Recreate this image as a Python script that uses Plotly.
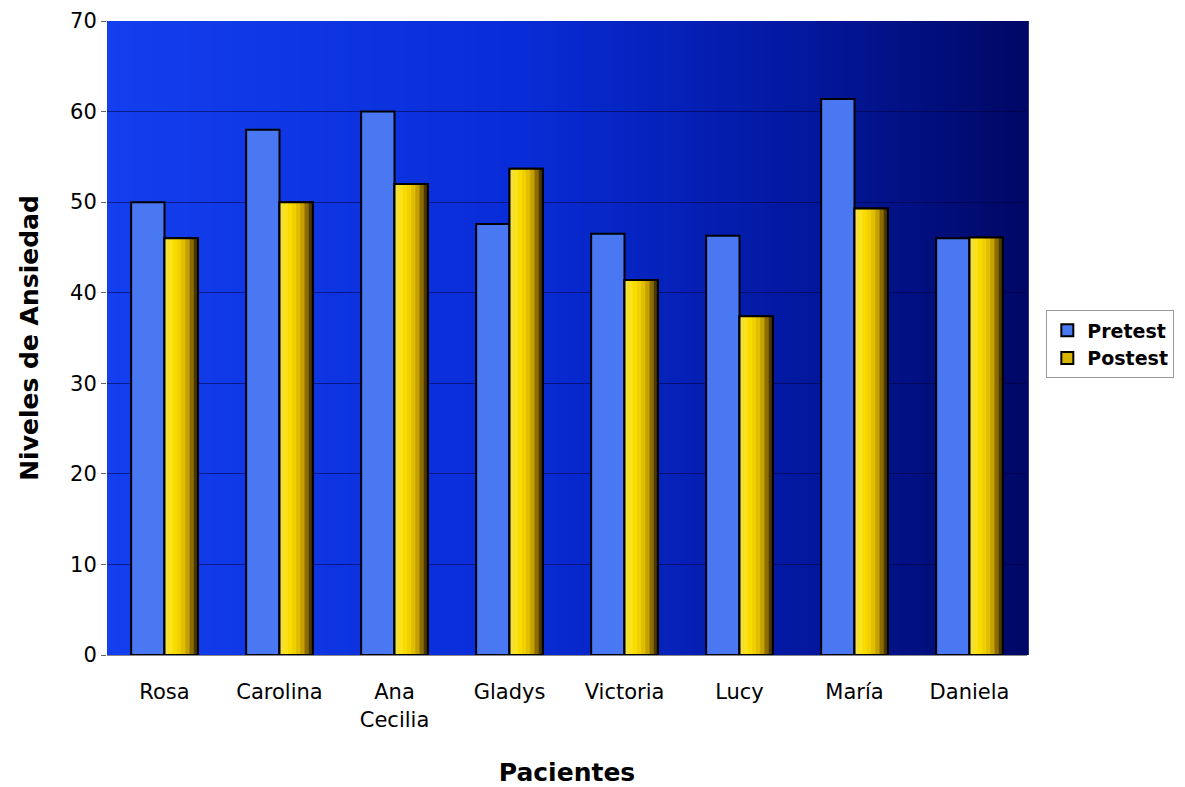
import plotly.graph_objects as go

categorias = ["Rosa", "Carolina", "Ana<br>Cecilia", "Gladys", "Victoria", "Lucy", "María", "Daniela"]
pretest = [50, 58, 60, 47.6, 46.5, 46.3, 61.4, 46]
postest = [46, 50, 52, 53.7, 41.4, 37.4, 49.3, 46.1]

FONT = "DejaVu Sans, Liberation Sans, Arial, sans-serif"
w = 0.29  # bar width in category units

fig = go.Figure()
# Pretest bars
fig.add_trace(go.Bar(name="Pretest", x=categorias, y=pretest, offset=-w, width=w,
                     marker=dict(color="#4a78f2", line=dict(color="#000000", width=2))))
# Postest bars (base colour, legend entry)
fig.add_trace(go.Bar(name="Postest", x=categorias, y=postest, offset=0, width=w,
                     marker=dict(color="#d8b400", line=dict(color="#000000", width=2))))
# cylinder shading strips on the Postest bars
shade = ["#f2e040", "#fbe21a", "#f8dc00", "#f0d000", "#e0be00", "#c4a000", "#8a6c00", "#4a3800"]
ns = len(shade)
for k, c in enumerate(shade):
    fig.add_trace(go.Bar(x=categorias, y=postest, offset=k * w / ns, width=w / ns + 0.002,
                         marker=dict(color=c, line=dict(width=0)), showlegend=False, hoverinfo="skip"))
# outline on top
fig.add_trace(go.Bar(x=categorias, y=postest, offset=0, width=w,
                     marker=dict(color="rgba(0,0,0,0)", line=dict(color="#000000", width=2)),
                     showlegend=False, hoverinfo="skip"))

# horizontal gradient background in plot area
n = 80
def lerp(a, b, t):
    return tuple(int(round(a[i] + (b[i] - a[i]) * t)) for i in range(3))
stops = [(0.0, (20, 62, 238)), (0.45, (8, 44, 215)), (0.75, (3, 24, 160)), (1.0, (0, 8, 100))]
shapes = []
for i in range(n):
    t = (i + 0.5) / n
    for j in range(len(stops) - 1):
        if stops[j][0] <= t <= stops[j + 1][0]:
            tt = (t - stops[j][0]) / (stops[j + 1][0] - stops[j][0])
            c = lerp(stops[j][1], stops[j + 1][1], tt)
            break
    shapes.append(dict(type="rect", xref="x domain", yref="y domain",
                       x0=i / n, x1=(i + 1) / n + 0.002, y0=0, y1=1,
                       fillcolor="rgb(%d,%d,%d)" % c, line=dict(width=0), layer="below"))

fig.update_layout(
    width=1185, height=787,
    margin=dict(l=99, r=166, t=13, b=140, autoexpand=False),
    paper_bgcolor="white", plot_bgcolor="#0a30d0",
    barmode="overlay",
    shapes=shapes,
    font=dict(family=FONT, size=21, color="black"),
    legend=dict(x=1.021, y=0.49, xanchor="left", yanchor="middle",
                bgcolor="white", bordercolor="#9a9a9a", borderwidth=1,
                font=dict(size=19, family=FONT, color="black", weight="bold"),
                tracegroupgap=4),
    xaxis=dict(title=dict(text="<b>Pacientes</b>", font=dict(size=25), standoff=32),
               showgrid=False, showline=True, linecolor="#888888", linewidth=1, automargin=False,
               ticks="outside", ticklen=18, tickcolor="rgba(0,0,0,0)", tickfont=dict(size=21)),
    yaxis=dict(title=dict(text="<b>Niveles de Ansiedad</b>", font=dict(size=25), standoff=24),
               range=[0, 70], dtick=10, showgrid=True, gridcolor="rgba(0,0,60,0.55)", gridwidth=1,
               ticks="outside", ticklen=5, tickcolor="#666666", zeroline=False, automargin=False,
               tickfont=dict(size=21)),
)
fig.write_html("out.html")
